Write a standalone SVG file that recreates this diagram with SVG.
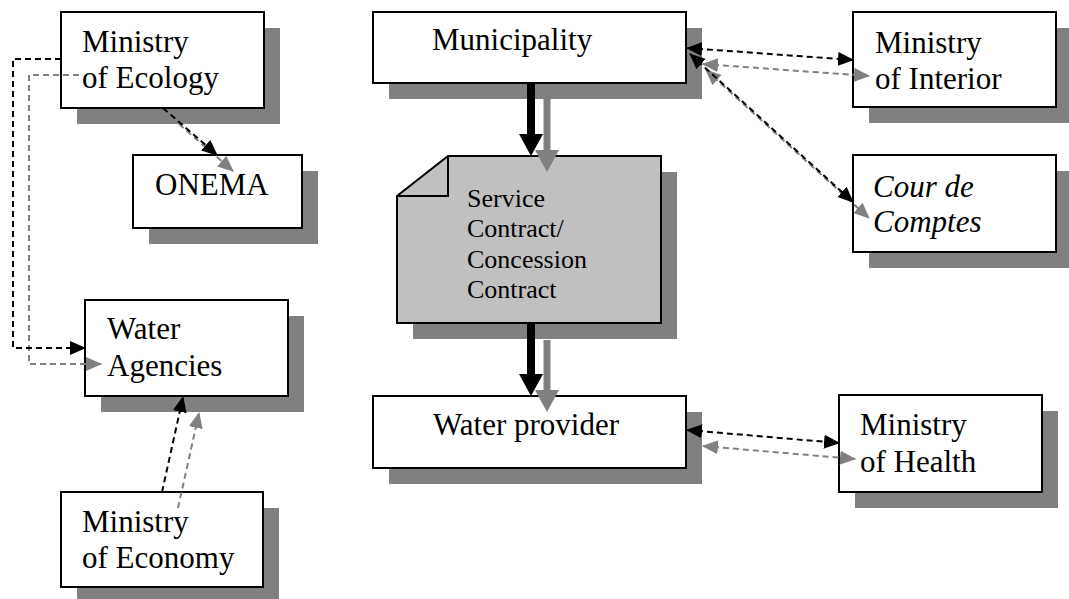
<svg xmlns="http://www.w3.org/2000/svg" width="1069" height="599" viewBox="0 0 1069 599">
<style>
  .box { fill: #ffffff; stroke: #000000; stroke-width: 2; }
  .doc { fill: #c0c0c0; stroke: #000000; stroke-width: 2; stroke-linejoin: miter; }
  .fold { fill: none; stroke: #000000; stroke-width: 2; }
  .shadow { fill: #808080; stroke: none; }
  .t { font-family: "Liberation Serif", "Times New Roman", serif; font-size: 31px; fill: #000000; }
  .ts { font-family: "Liberation Serif", "Times New Roman", serif; font-size: 26px; fill: #000000; }
  .it { font-style: italic; }
  .dk { fill: none; stroke: #000000; stroke-width: 2; stroke-dasharray: 6 4; }
  .dg { fill: none; stroke: #808080; stroke-width: 2; stroke-dasharray: 6 4; }
  .thk { fill: none; stroke: #000000; stroke-width: 8; }
  .thg { fill: none; stroke: #808080; stroke-width: 7; }
</style>
<defs>
  <marker id="ak" markerUnits="userSpaceOnUse" markerWidth="16" markerHeight="14" refX="15" refY="7" orient="auto-start-reverse">
    <path d="M0,0 L16,7 L0,14 Z" fill="#000000"/>
  </marker>
  <marker id="ag" markerUnits="userSpaceOnUse" markerWidth="16" markerHeight="14" refX="15" refY="7" orient="auto-start-reverse">
    <path d="M0,0 L16,7 L0,14 Z" fill="#808080"/>
  </marker>
  <marker id="bk" markerUnits="userSpaceOnUse" markerWidth="22" markerHeight="24" refX="0" refY="12" orient="auto">
    <path d="M0,0 L22,12 L0,24 Z" fill="#000000"/>
  </marker>
  <marker id="bg" markerUnits="userSpaceOnUse" markerWidth="22" markerHeight="24" refX="0" refY="12" orient="auto">
    <path d="M0,0 L22,12 L0,24 Z" fill="#808080"/>
  </marker>
</defs>

<g id="ministry-ecology">
  <rect class="shadow" x="77" y="28" width="203" height="96"/>
  <rect class="box" x="61" y="12" width="203" height="96"/>
  <text class="t" x="82" y="52">Ministry</text>
  <text class="t" x="82" y="88">of Ecology</text>
</g>
<g id="onema">
  <rect class="shadow" x="149" y="171" width="169" height="73"/>
  <rect class="box" x="133" y="155" width="169" height="73"/>
  <text class="t" x="155" y="195">ONEMA</text>
</g>
<g id="water-agencies">
  <rect class="shadow" x="101" y="316" width="203" height="96"/>
  <rect class="box" x="85" y="300" width="203" height="96"/>
  <text class="t" x="107" y="339">Water</text>
  <text class="t" x="107" y="376">Agencies</text>
</g>
<g id="ministry-economy">
  <rect class="shadow" x="77" y="508" width="202" height="95"/>
  <rect class="box" x="61" y="492" width="202" height="95"/>
  <text class="t" x="82" y="532">Ministry</text>
  <text class="t" x="82" y="568">of Economy</text>
</g>
<g id="municipality">
  <rect class="shadow" x="389" y="28" width="313" height="71"/>
  <rect class="box" x="373" y="12" width="313" height="71"/>
  <text class="t" x="432" y="50">Municipality</text>
</g>
<g id="contract">
  <path class="shadow" d="M464,172 H677 V339 H413 V212 Z"/>
  <path class="doc" d="M448,156 H661 V323 H397 V196 Z"/>
  <path class="fold" d="M448,156 V196 H397"/>
  <text class="ts" x="467" y="207">Service</text>
  <text class="ts" x="467" y="237">Contract/</text>
  <text class="ts" x="467" y="268">Concession</text>
  <text class="ts" x="467" y="298">Contract</text>
</g>
<g id="water-provider">
  <rect class="shadow" x="389" y="412" width="313" height="72"/>
  <rect class="box" x="373" y="396" width="313" height="72"/>
  <text class="t" x="433" y="435">Water provider</text>
</g>
<g id="ministry-interior">
  <rect class="shadow" x="869" y="28" width="203" height="95"/>
  <rect class="box" x="853" y="12" width="203" height="95"/>
  <text class="t" x="875" y="53">Ministry</text>
  <text class="t" x="875" y="89">of Interior</text>
</g>
<g id="cour-de-comptes">
  <rect class="shadow" x="869" y="171" width="203" height="97"/>
  <rect class="box" x="853" y="155" width="203" height="97"/>
  <text class="t it" x="873" y="197">Cour de</text>
  <text class="t it" x="873" y="232">Comptes</text>
</g>
<g id="ministry-health">
  <rect class="shadow" x="855" y="411" width="203" height="97"/>
  <rect class="box" x="839" y="395" width="203" height="97"/>
  <text class="t" x="860" y="435">Ministry</text>
  <text class="t" x="860" y="472">of Health</text>
</g>

<g id="connectors">
  <path class="dg" d="M79,75 H29 V364 H101" marker-end="url(#ag)"/>
  <path class="dg" d="M179,124 L233,171" marker-end="url(#ag)"/>
  <path class="dg" d="M178,508 L199,413" marker-end="url(#ag)"/>
  <path class="dg" d="M703,64 L869,76" marker-start="url(#ag)" marker-end="url(#ag)"/>
  <path class="dg" d="M706,70 L869,218" marker-start="url(#ag)" marker-end="url(#ag)"/>
  <path class="dg" d="M703,446 L855,459" marker-start="url(#ag)" marker-end="url(#ag)"/>
  <path class="thg" d="M547,99 V150" marker-end="url(#bg)"/>
  <path class="thg" d="M547,340 V390" marker-end="url(#bg)"/>
  <path class="dk" d="M61,59 H13 V348 H85" marker-end="url(#ak)"/>
  <path class="dk" d="M163,108 L217,155" marker-end="url(#ak)"/>
  <path class="dk" d="M162,492 L183,397" marker-end="url(#ak)"/>
  <path class="dk" d="M687,48 L853,60" marker-start="url(#ak)" marker-end="url(#ak)"/>
  <path class="dk" d="M690,54 L853,202" marker-start="url(#ak)" marker-end="url(#ak)"/>
  <path class="dk" d="M687,430 L839,443" marker-start="url(#ak)" marker-end="url(#ak)"/>
  <path class="thk" d="M531,84 V134" marker-end="url(#bk)"/>
  <path class="thk" d="M531,324 V374" marker-end="url(#bk)"/>
</g>
</svg>
